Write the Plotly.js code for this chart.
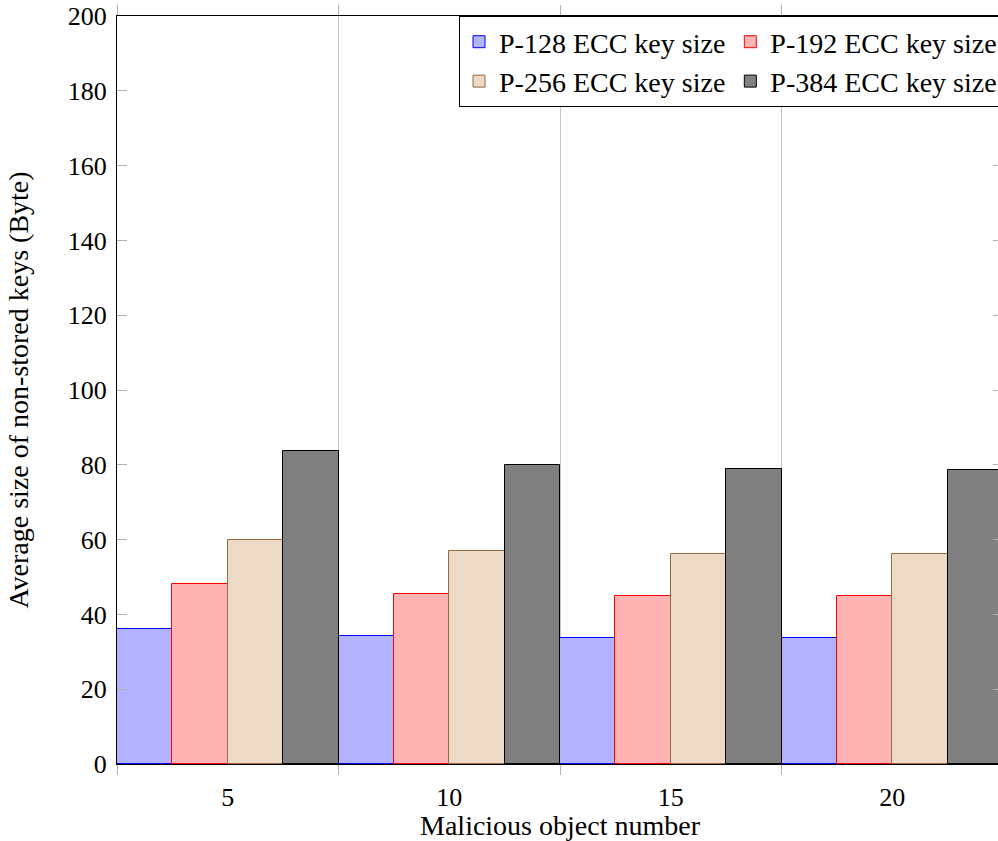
<!DOCTYPE html>
<html>
<head>
<meta charset="utf-8">
<script src="https://cdn.plot.ly/plotly-3.0.1.min.js"></script>
<style>
html, body { margin: 0; padding: 0; overflow: hidden; background: #fff; }
#chart { width: 1005px; height: 841px; }
</style>
</head>
<body>
<div id="chart"></div>
<script>
const categories = ['5', '10', '15', '20'];
const seriesNames = ['P-128 ECC key size', 'P-192 ECC key size', 'P-256 ECC key size', 'P-384 ECC key size'];
const p128 = [36.0, 34.2, 33.7, 33.7];
const p192 = [48.0, 45.5, 44.9, 44.9];
const p256 = [60.0, 57.0, 56.2, 56.2];
const p384 = [83.8, 80.0, 78.9, 78.6];
const yTicks = [0, 20, 40, 60, 80, 100, 120, 140, 160, 180, 200];

const fills = ['rgb(179,179,255)', 'rgb(255,179,179)', 'rgb(236,217,198)', 'rgb(128,128,128)'];
const borders = ['rgb(0,0,255)', 'rgb(255,0,0)', 'rgb(150,105,65)', 'rgb(0,0,0)'];
const groups = ['a', 'b', 'a', 'b'];
const values = [p128, p192, p256, p384];

const font = 'Liberation Serif, Times New Roman, serif';

const traces = values.map((v, i) => ({
  type: 'bar',
  name: seriesNames[i],
  x: categories,
  y: v,
  legendgroup: groups[i],
  marker: { color: fills[i], line: { color: borders[i], width: 1 } },
  hoverinfo: 'x+y+name'
}));

const layout = {
  width: 1005,
  height: 841,
  margin: { l: 117, r: 2, t: 16, b: 77 },
  paper_bgcolor: '#fff',
  plot_bgcolor: '#fff',
  font: { family: font, size: 26, color: '#000' },
  barmode: 'group',
  bargap: 0,
  bargroupgap: 0,
  showlegend: true,
  legend: {
    x: 1, xanchor: 'right', y: 1, yanchor: 'top',
    orientation: 'h',
    bordercolor: '#000', borderwidth: 1, bgcolor: '#fff',
    tracegroupgap: 0,
    font: { family: font, size: 28, color: '#000' }
  },
  xaxis: {
    type: 'category',
    range: [-0.5, 3.5],
    tickson: 'boundaries',
    ticks: 'outside', ticklen: 10, tickcolor: '#b0b0b0', tickwidth: 1,
    showgrid: true, gridcolor: '#c8c8c8', gridwidth: 1,
    showline: true, linecolor: '#000', linewidth: 1, mirror: 'ticks',
    zeroline: false,
    tickfont: { family: font, size: 26 },
    ticklabelstandoff: 10,
    title: { text: 'Malicious object number', font: { family: font, size: 28 }, standoff: 8 },
    automargin: false
  },
  yaxis: {
    range: [0, 200],
    tickvals: yTicks,
    ticktext: yTicks.map(String),
    ticks: 'inside', ticklen: 10, tickcolor: '#b0b0b0', tickwidth: 1,
    showgrid: false, zeroline: false,
    showline: true, linecolor: '#000', linewidth: 1, mirror: 'ticks',
    tickfont: { family: font, size: 26 },
    ticklabelstandoff: 4,
    title: { text: 'Average size of non-stored keys (Byte)', font: { family: font, size: 28 }, standoff: 30 },
    automargin: false
  }
};

Plotly.newPlot('chart', traces, layout, { displayModeBar: false, responsive: false });
</script>
</body>
</html>
